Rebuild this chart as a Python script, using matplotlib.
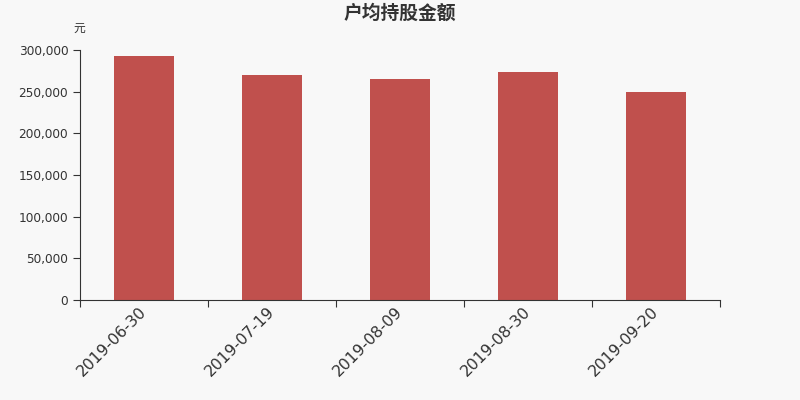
import matplotlib
matplotlib.use("Agg")
import matplotlib.pyplot as plt
from matplotlib.ticker import FuncFormatter

plt.rcParams['font.family'] = ['DejaVu Sans', 'Noto Sans CJK SC']

categories = ["2019-06-30", "2019-07-19", "2019-08-09", "2019-08-30", "2019-09-20"]
values = [292700, 270300, 264700, 273500, 249300]
yticks = [0, 50000, 100000, 150000, 200000, 250000, 300000]

bg = "#f8f8f8"
fig = plt.figure(figsize=(8, 4), dpi=100, facecolor=bg)
ax = fig.add_axes([0.1, 0.25, 0.8, 0.625], facecolor=bg)

x = list(range(len(categories)))
ax.bar(x, values, width=0.47, color="#c0504d")
ax.set_xlim(-0.5, len(categories) - 0.5)
ax.set_ylim(0, 300000)
ax.set_yticks(yticks)
ax.yaxis.set_major_formatter(FuncFormatter(lambda v, p: f"{int(v):,}"))
ax.set_xticks([i - 0.5 for i in range(len(categories) + 1)], minor=False)
ax.set_xticklabels([""] * (len(categories) + 1))
ax.set_xticks(x, minor=True)
ax.set_xticklabels(categories, minor=True, rotation=45, ha="right",
                   va="center", rotation_mode="anchor", fontsize=11.3, color="#333333")
ax.tick_params(axis="x", which="minor", length=0, pad=7)
ax.tick_params(axis="x", which="major", length=5, color="#333333")
ax.tick_params(axis="y", length=5, color="#333333", labelsize=8.7, labelcolor="#333333")

for s in ["top", "right"]:
    ax.spines[s].set_visible(False)
for s in ["left", "bottom"]:
    ax.spines[s].set_color("#333333")
    ax.spines[s].set_linewidth(0.8)

fig.text(0.5, 0.966, "户均持股金额", ha="center", va="center",
         fontsize=13.5, fontweight="bold", color="#333333",
         family=['Noto Sans CJK SC', 'DejaVu Sans'])
fig.text(0.099, 0.93, "元", ha="center", va="center", fontsize=8.5, color="#333333",
         family=['Noto Sans CJK SC', 'DejaVu Sans'])

fig.savefig("out.png", dpi=100, facecolor=bg)
